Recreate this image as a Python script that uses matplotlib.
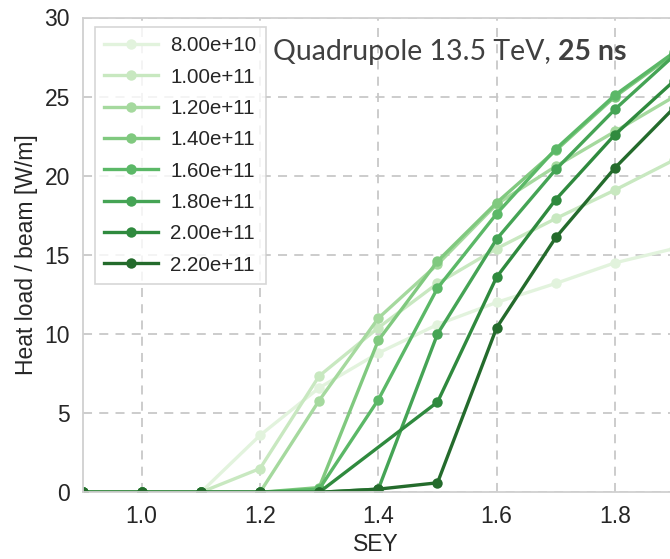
import numpy as np
import matplotlib.pyplot as plt

# SEY scan points
sey = [0.9, 1.0, 1.1, 1.2, 1.3, 1.4, 1.5, 1.6, 1.7, 1.8, 1.9]

# bunch intensities (legend labels)
intensities = ["8.00e+10", "1.00e+11", "1.20e+11", "1.40e+11",
               "1.60e+11", "1.80e+11", "2.00e+11", "2.20e+11"]

# heat load per beam [W/m], None = point missing in the scan
hl_080 = [0, 0, 0, 3.6, 6.6, 8.8, 10.6, 12.0, 13.2, 14.5, 15.4]
hl_100 = [0, 0, 0, 1.5, 7.35, 10.4, 13.2, 15.4, 17.3, 19.1, 21.0]
hl_120 = [0, 0, 0, 0, 5.8, 11.0, 14.4, 18.2, 20.6, 22.8, 25.0]
hl_140 = [0, 0, 0, 0, 0.3, 9.6, 14.6, 18.3, 21.6, 25.0, 27.7]
hl_160 = [0, 0, 0, 0, 0.2, 5.85, 12.9, 17.6, 21.7, 25.1, 27.8]
hl_180 = [0, 0, 0, 0, 0, 0.2, 10.0, 16.0, 20.4, 24.2, 27.6]
hl_200 = [0, 0, 0, 0, 0, None, 5.7, 13.6, 18.5, 22.6, 26.0]
hl_220 = [0, 0, 0, 0, 0, 0.2, 0.6, 10.4, 16.1, 20.5, 24.3]

series = [hl_080, hl_100, hl_120, hl_140, hl_160, hl_180, hl_200, hl_220]
colors = ['#e2f3dd', '#c8e8c0', '#a5d99e', '#80c97f',
          '#5bb867', '#45a455', '#2f8a3e', '#246b2c']

plt.rcParams['font.family'] = ['Liberation Sans', 'DejaVu Sans']
plt.rcParams['text.color'] = '#262626'
plt.rcParams['axes.labelcolor'] = '#262626'
plt.rcParams['xtick.color'] = '#262626'
plt.rcParams['ytick.color'] = '#262626'

fig = plt.figure(figsize=(6.7, 5.59), dpi=100)
ax = fig.add_axes([82.5 / 670, 66.7 / 559, 1 - 82.5 / 670, 474.8 / 559])

for vals, lab, c in zip(series, intensities, colors):
    xs = [x for x, v in zip(sey, vals) if v is not None]
    ys = [v for v in vals if v is not None]
    ax.plot(xs, ys, '-o', color=c, lw=2.4, ms=7.5, mew=0, label=lab)

ax.set_xlim(0.9, 1.893)
ax.set_ylim(0, 30)
ax.set_xticks([1.0, 1.2, 1.4, 1.6, 1.8])
ax.set_yticks([0, 5, 10, 15, 20, 25, 30])
ax.tick_params(labelsize=16.5, length=0, pad=9)
ax.set_xlabel("SEY", fontsize=16.5, labelpad=4)
ax.set_ylabel("Heat load / beam [W/m]", fontsize=16.5, labelpad=5)

ax.grid(True, ls=(0, (5, 4)), color='#c8c8c8', lw=1.3)
ax.set_axisbelow(True)
for s in ['left', 'top', 'bottom']:
    ax.spines[s].set_color('#d0d0d0')
    ax.spines[s].set_linewidth(1.3)
ax.spines['right'].set_visible(False)

leg = ax.legend(loc='upper left', bbox_to_anchor=(95 / 670, 1 - 27 / 559),
                bbox_transform=fig.transFigure, fontsize=14.8, frameon=True,
                fancybox=False, handlelength=2.6, labelspacing=0.6,
                borderpad=0.45, handletextpad=0.6, borderaxespad=0)
leg.get_frame().set_edgecolor('#cccccc')
leg.get_frame().set_linewidth(1.2)

t1 = ax.text(0.324, 0.9105, "Quadrupole 13.5 TeV, ", transform=ax.transAxes,
             fontsize=20.5, family='Lato', color='#404040', va='baseline')
ax.annotate("25 ns", xy=(1, 0), xycoords=t1, va='bottom', fontsize=20.5,
            family='Lato', fontweight='bold', color='#404040')

fig.savefig("out.png", dpi=100)
